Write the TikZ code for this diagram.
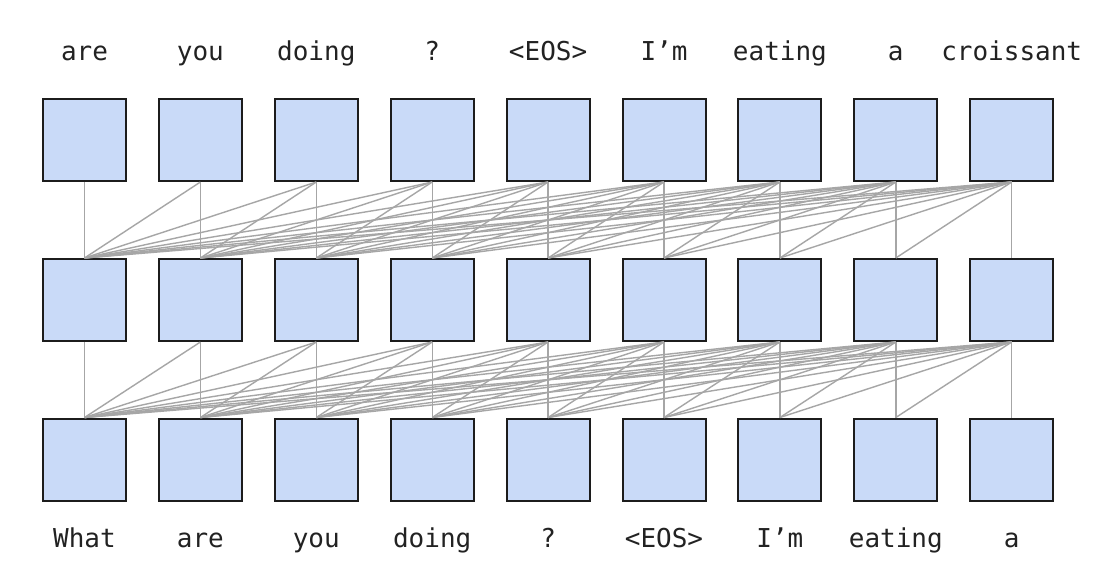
\documentclass[tikz,border=0pt]{standalone}
\usepackage{fontspec}
\newfontfamily\lblfont{DejaVu Sans Mono}
\definecolor{boxfill}{HTML}{C9DAF8}
\definecolor{boxline}{HTML}{1C1C1C}
\definecolor{linkgray}{HTML}{A6A6A6}
\definecolor{txt}{HTML}{222222}
\tikzset{
  cell/.style={draw=boxline, line width=2pt, fill=boxfill, minimum width=83pt, minimum height=82pt, inner sep=0pt},
  link/.style={draw=linkgray, line width=1.4pt},
  word/.style={anchor=base, inner sep=0pt, text=txt, font=\lblfont\fontsize{26}{30}\selectfont}
}
\begin{document}
\begin{tikzpicture}[x=1pt,y=-1pt]
\useasboundingbox[fill=white] (0,0) rectangle (1109,574);
% boxes
\foreach \k in {1,...,9} {
  \pgfmathsetmacro{\cx}{84.5+115.9*(\k-1)}
  \node[cell] (t\k) at (\cx,140) {};
  \node[cell] (m\k) at (\cx,300) {};
  \node[cell] (b\k) at (\cx,459.5) {};
}
% connectors
\foreach \i in {1,...,9} {
  \foreach \j in {1,...,\i} {
    \draw[link] (t\i.south) -- (m\j.north);
    \draw[link] (m\i.south) -- (b\j.north);
  }
}
% top labels
\foreach \k/\w in {1/are,2/you,3/doing,4/?,5/<EOS>,6/I’m,7/eating,8/a,9/croissant} {
  \pgfmathsetmacro{\cx}{84.5+115.9*(\k-1)}
  \node[word] (tw\k) at (\cx,60) {\w};
}
% bottom labels
\foreach \k/\w in {1/What,2/are,3/you,4/doing,5/?,6/<EOS>,7/I’m,8/eating,9/a} {
  \pgfmathsetmacro{\cx}{84.5+115.9*(\k-1)}
  \node[word] (bw\k) at (\cx,547) {\w};
}
\end{tikzpicture}
\end{document}
